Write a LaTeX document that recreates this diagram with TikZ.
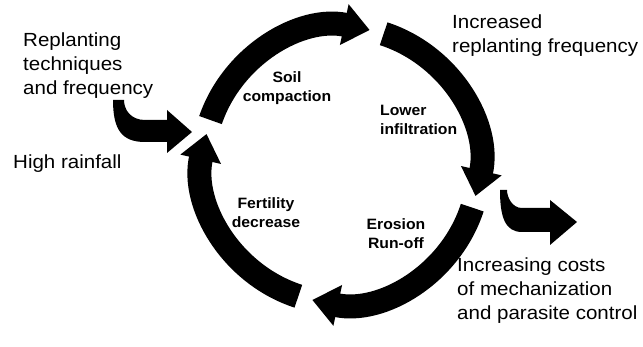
\documentclass[tikz,border=0pt]{standalone}
\usepackage{fontspec}
\setmainfont{Liberation Sans}
\newfontfamily\labelfont[FakeStretch=1.08]{Liberation Sans}
\newfontfamily\cyclefont[FakeStretch=1.05]{Liberation Sans}
\usetikzlibrary{arrows.meta}
\begin{document}
\begin{tikzpicture}[x=1pt,y=1pt,
  outer/.style={font=\labelfont\fontsize{19}{24}\selectfont, align=left, inner sep=0pt, anchor=north west},
  inner/.style={font=\cyclefont\bfseries\fontsize{15}{19}\selectfont, align=center, inner sep=0pt},
  cyclearrow/.style={line width=24pt, -{Triangle[width=40pt,length=26pt]}},
  sidearrow/.style={fill=black, draw=none}]
\useasboundingbox (0,0) rectangle (643,347);
\fill[white] (0,0) rectangle (643,347);
% texts
\node[outer] (replant) at (23,314) {Replanting\\techniques\\and frequency};
\node[outer] (rain) at (13,192) {High rainfall};
\node[outer] (incr) at (452,332) {Increased\\replanting frequency};
\node[outer] (costs) at (457,89) {Increasing costs\\of mechanization\\and parasite control};
\node[inner] (soil) at (287,259) {Soil\\compaction};
\node[inner, align=left, anchor=north west] (lower) at (380,242) {Lower\\infiltration};
\node[inner] (fert) at (266,134) {Fertility\\decrease};
\node[inner] (eros) at (396,113) {Erosion\\Run-off};
% cycle
\coordinate (c) at (341,182);
\def\rr{138}
\draw[cyclearrow] (c) ++(161:\rr) arc[start angle=161, end angle=78, radius=\rr];
\draw[cyclearrow] (c) ++(72:\rr) arc[start angle=72, end angle=-13, radius=\rr];
\draw[cyclearrow] (c) ++(-18:\rr) arc[start angle=-18, end angle=-102, radius=\rr];
\draw[cyclearrow] (c) ++(-108:\rr) arc[start angle=-108, end angle=-193, radius=\rr];
% input arrow
\fill[sidearrow] (113,247) .. controls (113,217) and (122,205) .. (145,205) -- (167,205) -- (167,194) -- (192,215) -- (167,237) -- (167,227) -- (145,227) .. controls (131,227) and (124,237) .. (124,247) -- cycle;
% output arrow
\fill[sidearrow] (500,157) .. controls (500,130) and (505,115) .. (522,115) -- (550,115) -- (550,102) -- (577,125) -- (550,147) -- (550,139) -- (522,139) .. controls (512,139) and (507,150) .. (507,157) -- cycle;
\end{tikzpicture}
\end{document}
